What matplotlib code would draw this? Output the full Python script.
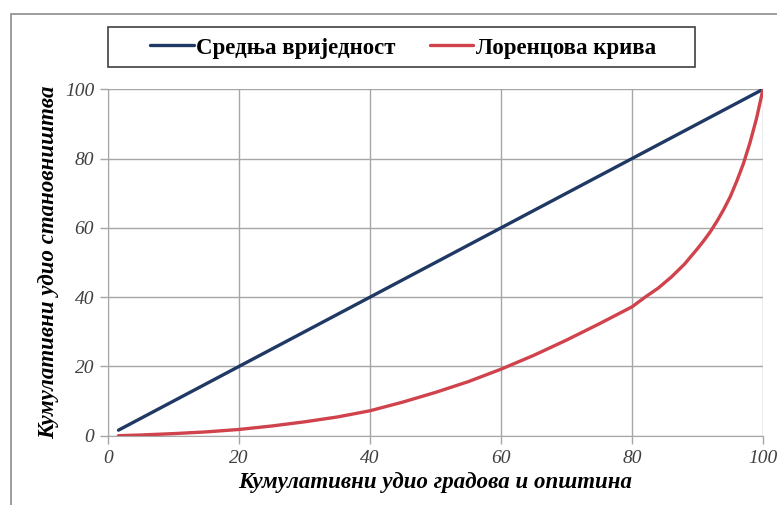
import matplotlib.pyplot as plt
from matplotlib.patches import Rectangle

mean_x = [1.6, 20, 40, 60, 80, 100]
mean_y = [1.6, 20, 40, 60, 80, 100]

lorenz_x = [1.6, 5, 10, 15, 20, 25, 30, 35, 40, 45, 50, 55, 60, 65, 70, 75,
            80, 82, 84, 86, 88, 90, 91, 92, 93, 94, 95, 96, 97, 98, 99, 100]
lorenz_y = [0, 0.2, 0.6, 1.1, 1.8, 2.8, 4.0, 5.4, 7.2, 9.7, 12.5, 15.6, 19.2,
            23.2, 27.6, 32.3, 37.2, 40, 42.6, 45.8, 49.5, 54, 56.4, 59, 62,
            65.3, 69, 73.5, 78.5, 84.5, 91.5, 100]

ticks = [0, 20, 40, 60, 80, 100]
labels = ['Средња вриједност', 'Лоренцова крива']
xlabel = 'Кумулативни удио градова и општина'
ylabel = 'Кумулативни удио становништва'

W, H = 777, 505
SERIF = 'Liberation Serif'
GRID = '#a6a6a6'

fig = plt.figure(figsize=(W / 100, H / 100), dpi=100)
ax = fig.add_axes([108 / W, 1 - 435.7 / H, 655 / W, 346.4 / H])

# outer chart frame (runs off the right and bottom edge)
fig.patches.append(Rectangle((11 / W, -0.1), 1.0, 1 - 14 / H + 0.1,
                             transform=fig.transFigure, fill=False,
                             edgecolor='#8c8c8c', lw=1.2))
# legend box
fig.patches.append(Rectangle((108 / W, 1 - 67 / H), 587 / W, 40 / H,
                             transform=fig.transFigure, fill=False,
                             edgecolor='#404040', lw=1.2))

ax.plot(mean_x, mean_y, color='#1f3864', lw=2.4, label=labels[0],
        solid_capstyle='round', zorder=3)
ax.plot(lorenz_x, lorenz_y, color='#d0434c', lw=2.4, label=labels[1],
        solid_capstyle='round', zorder=3)

ax.set_xlim(0, 100)
ax.set_ylim(0, 100)
ax.set_xticks(ticks)
ax.set_yticks(ticks)
ax.grid(True, color=GRID, lw=1)
for s in ['top', 'right']:
    ax.spines[s].set_visible(False)
for s in ['left', 'bottom']:
    ax.spines[s].set_color(GRID)
ax.tick_params(colors=GRID, length=6, width=1, pad=4)
for lab in ax.get_xticklabels() + ax.get_yticklabels():
    lab.set_family(SERIF)
    lab.set_style('italic')
    lab.set_fontsize(14)
    lab.set_color('#404040')

ax.set_xlabel(xlabel, family=SERIF, style='italic', weight='bold',
              fontsize=16.5, labelpad=4)
ax.set_ylabel(ylabel, family=SERIF, style='italic', weight='bold',
              fontsize=16.5, labelpad=4)

ax.legend(loc='center', ncol=2, bbox_to_anchor=(403 / W, 1 - 48 / H),
          bbox_transform=fig.transFigure, borderaxespad=0, borderpad=0,
          prop={'family': SERIF, 'weight': 'bold', 'size': 16.5},
          handlelength=1.9, handletextpad=0.1, columnspacing=1.5,
          frameon=False)

fig.savefig('out.png', dpi=100)
